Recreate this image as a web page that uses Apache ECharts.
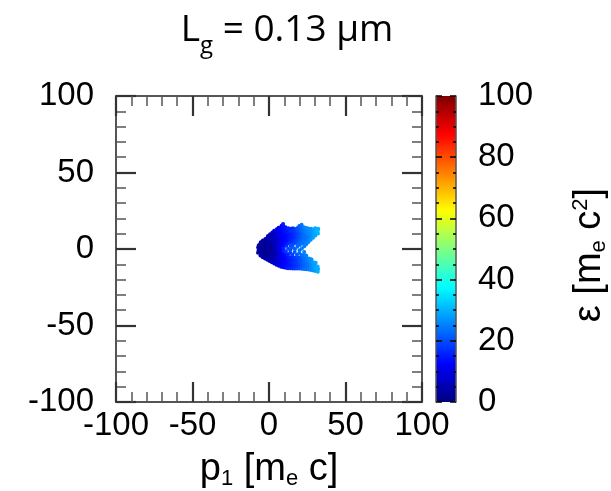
<!DOCTYPE html>
<html>
<head>
<meta charset="utf-8">
<script src="https://cdn.jsdelivr.net/npm/echarts@6/dist/echarts.min.js"></script>
<style>html,body{margin:0;padding:0;background:#fff}#c{width:611px;height:491px}</style>
</head>
<body>
<div id="c"></div>
<script>
// axis ranges and ticks
const xRange = [-100, 100];
const yRange = [-100, 100];
const axisInterval = 50;
const energyRange = [0, 100];
const energyInterval = 20;
// jet colormap stops
const jetColors = ['#00007F','#0000FF','#007FFF','#00FFFF','#7FFF7F','#FFFF00','#FF7F00','#FF0000','#7F0000'];
// particles: [p1, p2, energy]
const particles = [
[-7.2,-2.4,4],[-6.8,-0.8,3],[-7.1,0.9,3],[-6.7,2.5,4],
[-5.6,-4.3,4],[-5.4,-2.5,3],[-5.8,-0.7,2],[-5.3,1.1,2],[-5.7,2.9,3],[-5.4,4.4,4],
[-4.1,-5.4,4],[-3.9,-3.6,3],[-4.3,-1.8,2],[-4.0,0.0,2],[-3.8,1.8,2],[-4.2,3.6,3],[-4.0,5.5,4],
[-2.6,-6.2,4],[-2.4,-4.4,3],[-2.8,-2.6,2],[-2.5,-0.8,2],[-2.3,1.0,2],[-2.7,2.8,2],[-2.5,4.6,3],[-2.4,6.5,4],
[-1.1,-7.0,4],[-0.9,-5.2,3],[-1.3,-3.4,2],[-1.0,-1.6,2],[-0.8,0.2,2],[-1.2,2.0,2],[-1.0,3.8,3],[-0.9,5.6,3],[-1.1,7.4,4],[-0.7,8.5,5],
[0.4,-7.8,5],[0.6,-6.0,4],[0.2,-4.2,3],[0.5,-2.4,3],[0.7,-0.6,2],[0.3,1.2,3],[0.5,3.0,3],[0.6,4.8,3],[0.4,6.6,4],[0.5,8.4,5],[0.7,9.7,6],
[1.9,-8.7,6],[2.1,-6.9,5],[1.7,-5.1,4],[2.0,-3.3,4],[2.2,-1.5,3],[1.8,0.3,3],[2.0,2.1,4],[2.1,3.9,4],[1.9,5.7,4],[2.0,7.5,5],[1.8,9.3,6],[2.2,10.8,7],
[3.4,-9.5,7],[3.6,-7.7,6],[3.2,-5.9,5],[3.5,-4.1,5],[3.7,-2.3,4],[3.3,-0.5,4],[3.5,1.3,5],[3.6,3.1,5],[3.4,4.9,5],[3.5,6.7,6],[3.3,8.5,6],[3.7,10.3,7],[3.4,11.9,8],
[4.9,-10.3,9],[5.1,-8.5,8],[4.7,-6.7,7],[5.0,-4.9,6],[5.2,-3.1,6],[4.8,-1.3,6],[5.0,0.5,7],[5.1,2.3,7],[4.9,4.1,7],[5.0,5.9,7],[4.8,7.7,8],[5.2,9.5,8],[4.9,11.3,9],[5.1,12.9,10],
[6.4,-11.0,10],[6.6,-9.2,9],[6.2,-7.4,9],[6.5,-5.6,8],[6.7,-3.8,8],[6.3,-2.0,8],[6.5,-0.2,9],[6.6,1.6,9],[6.4,3.4,9],[6.5,5.2,9],[6.3,7.0,9],[6.7,8.8,10],[6.4,10.6,10],[6.6,12.4,11],[6.3,13.9,11],
[7.9,-11.6,12],[8.1,-9.8,11],[7.7,-8.0,11],[8.0,-6.2,10],[8.2,-4.4,10],[7.8,-2.6,11],[8.0,-0.8,12],[8.1,1.0,12],[7.9,2.8,11],[8.0,4.6,11],[7.8,6.4,11],[8.2,8.2,11],[7.9,10.0,12],[8.1,11.8,12],[7.8,13.6,13],[8.2,15.2,13],
[9.4,-12.0,13],[9.6,-10.2,12],[9.2,-8.4,12],[9.5,-6.6,12],[9.7,-4.8,12],[9.3,-3.0,13],[9.5,-1.2,15],[9.6,0.6,16],[9.4,2.4,13],[9.5,4.2,12],[9.3,6.0,12],[9.7,7.8,12],[9.4,9.6,13],[9.6,11.4,13],[9.3,13.2,14],[9.5,14.9,14],[9.2,16.3,15],
[10.9,-12.3,14],[11.1,-10.5,13],[10.7,-8.7,13],[11.0,-6.9,13],[11.2,-5.1,13],[10.8,-3.3,14],[11.0,-1.5,18],[11.3,2.1,17],[10.9,3.9,14],[11.0,5.7,13],[10.8,7.5,13],[11.2,9.3,13],[10.9,11.1,14],[11.1,12.9,14],[10.8,14.2,15],
[12.4,-12.5,15],[12.6,-10.7,14],[12.2,-8.9,14],[12.5,-7.1,14],[12.7,-5.3,15],[12.3,-3.5,16],[12.5,0.1,20],[12.6,3.7,16],[12.4,5.5,14],[12.5,7.3,14],[12.3,9.1,14],[12.7,10.9,15],[12.4,12.7,15],[12.6,13.6,16],
[13.9,-12.6,16],[14.1,-10.8,15],[13.7,-9.0,15],[14.0,-7.2,15],[14.2,-5.4,16],[13.8,-2.4,18],[14.0,-0.6,20],[14.1,1.9,19],[13.9,4.4,17],[14.0,6.2,15],[13.8,8.0,15],[14.2,9.8,15],[13.9,11.6,16],[14.1,13.2,16],
[15.4,-12.7,17],[15.6,-10.9,16],[15.2,-9.1,16],[15.5,-7.3,16],[15.7,-5.5,17],[15.3,-3.6,19],[15.5,1.0,21],[15.6,3.0,20],[15.4,5.0,17],[15.5,6.8,16],[15.3,8.6,16],[15.7,10.4,16],[15.4,12.2,17],[15.6,13.5,17],
[16.9,-12.8,18],[17.1,-11.0,17],[16.7,-9.2,17],[17.0,-7.4,17],[17.2,-5.6,18],[16.8,-2.0,21],[17.0,0.0,22],[17.1,4.0,19],[16.9,5.8,18],[17.0,7.6,17],[16.8,9.4,17],[17.2,11.2,18],[16.9,13.0,18],
[18.4,-12.8,19],[18.6,-11.0,18],[18.2,-9.2,18],[18.5,-7.4,18],[18.7,-5.6,19],[18.3,-3.8,21],[18.5,1.5,23],[18.6,3.3,22],[18.4,5.1,20],[18.5,6.9,19],[18.3,8.7,19],[18.7,10.5,19],[18.4,12.3,20],[18.6,13.8,20],
[19.9,-12.8,20],[20.1,-11.0,19],[19.7,-9.2,19],[20.0,-7.4,20],[20.2,-5.6,20],[19.8,-2.6,23],[20.0,-0.8,24],[20.1,2.6,23],[19.9,4.4,22],[20.0,6.2,21],[19.8,8.0,20],[20.2,9.8,20],[19.9,11.6,21],[20.1,13.4,21],[19.8,15.0,22],
[21.4,-12.9,22],[21.6,-11.1,21],[21.2,-9.3,21],[21.5,-7.5,21],[21.7,-5.7,22],[21.3,-3.9,23],[21.5,0.4,25],[21.6,3.6,24],[21.4,5.4,23],[21.5,7.2,22],[21.3,9.0,22],[21.7,10.8,22],[21.4,12.6,23],[21.6,14.4,23],[21.3,15.8,24],
[22.9,-13.0,23],[23.1,-11.2,22],[22.7,-9.4,22],[23.0,-7.6,23],[23.2,-5.8,23],[22.8,-4.0,24],[23.0,-2.0,25],[23.1,1.8,25],[22.9,4.0,24],[23.0,5.8,24],[22.8,7.6,23],[23.2,9.4,23],[22.9,11.2,24],[23.1,13.0,24],[22.8,14.2,25],
[24.4,-13.2,24],[24.6,-11.4,23],[24.2,-9.6,23],[24.5,-7.8,24],[24.7,-6.0,24],[24.3,-4.2,25],[24.5,3.2,25],[24.6,5.0,25],[24.4,6.8,24],[24.5,8.6,24],[24.3,10.4,25],[24.7,12.2,25],[24.4,13.8,26],
[25.9,-13.4,25],[26.1,-11.6,24],[25.7,-9.8,24],[26.0,-8.0,25],[26.2,-6.2,26],[25.8,4.6,26],[26.0,6.4,25],[26.1,8.2,25],[25.9,10.0,26],[26.0,11.8,26],[25.8,13.4,27],
[27.4,-13.7,26],[27.6,-11.9,26],[27.2,-10.1,26],[27.5,-8.3,26],[27.7,-6.7,27],[27.3,6.0,27],[27.5,7.8,26],[27.6,9.6,26],[27.4,11.4,27],[27.5,13.2,27],
[28.9,-14.0,27],[29.1,-12.2,27],[28.7,-10.4,27],[29.0,-8.6,28],[28.8,7.4,28],[29.1,9.2,28],[28.9,11.0,28],[29.0,12.8,28],
[30.4,-14.4,28],[30.6,-12.6,29],[30.2,-10.8,28],[30.5,-9.0,29],[30.3,8.8,29],[30.6,10.6,29],[30.4,12.4,30],[30.2,13.6,29],
[31.9,-14.8,30],[32.1,-13.0,29],[31.8,-11.4,30],[32.0,10.2,30],[31.9,12.0,31],[32.2,13.2,30]
];

const FONT = 'Liberation Sans, Arial, sans-serif';
const TITLE_FONT = 'Open Sans, Noto Sans, sans-serif';
const frameColor = '#555';
const labelStyle = {fontSize: 33, color: '#000', fontFamily: FONT};

function frameAxis(extra) {
  return Object.assign({
    axisLine: {show: true, onZero: false, lineStyle: {color: frameColor, width: 2}},
    axisTick: {show: true, inside: true, length: 20, lineStyle: {color: '#333', width: 2.2}},
    minorTick: {show: true, splitNumber: 5, length: 10, lineStyle: {color: '#555', width: 1.5}},
    splitLine: {show: false},
    minorSplitLine: {show: false}
  }, extra);
}
function cbAxis(extra) {
  return Object.assign({
    gridIndex: 1, type: 'value', min: energyRange[0], max: energyRange[1], interval: energyInterval, z: 10,
    axisLine: {show: true, onZero: false, lineStyle: {color: frameColor, width: 1.5}},
    axisTick: {show: true, inside: true, length: 6, lineStyle: {color: '#000', width: 1.5}},
    minorTick: {show: true, splitNumber: 4, length: 3, lineStyle: {color: '#000', width: 1.5}},
    splitLine: {show: false}
  }, extra);
}

const chart = echarts.init(document.getElementById('c'), null, {renderer: 'canvas'});
chart.setOption({
  animation: false,
  backgroundColor: '#fff',
  grid: [
    {left: 116, top: 96, width: 306, height: 306, outerBoundsMode: 'none'},
    {left: 436, top: 96, width: 20, height: 306, outerBoundsMode: 'none'}
  ],
  xAxis: [
    frameAxis({gridIndex: 0, type: 'value', position: 'bottom', min: xRange[0], max: xRange[1], interval: axisInterval,
      axisLabel: Object.assign({margin: 7}, labelStyle),
      name: '{a|p}{s|1}{a| [m}{s|e}{a| c]}', nameLocation: 'middle', nameGap: 46,
      nameTextStyle: {rich: {
        a: {fontSize: 38, fontFamily: FONT, color: '#000', lineHeight: 44},
        s: {fontSize: 22, fontFamily: FONT, color: '#000', lineHeight: 44, verticalAlign: 'bottom', padding: [0, 0, 2, 0]}
      }}
    }),
    frameAxis({gridIndex: 0, type: 'value', position: 'top', min: xRange[0], max: xRange[1], interval: axisInterval, axisLabel: {show: false}}),
    {gridIndex: 1, type: 'value', min: 0, max: 1, show: false}
  ],
  yAxis: [
    frameAxis({gridIndex: 0, type: 'value', position: 'left', min: yRange[0], max: yRange[1], interval: axisInterval,
      axisLabel: Object.assign({margin: 22}, labelStyle)}),
    frameAxis({gridIndex: 0, type: 'value', position: 'right', min: yRange[0], max: yRange[1], interval: axisInterval, axisLabel: {show: false}}),
    cbAxis({position: 'right', axisLabel: Object.assign({margin: 22}, labelStyle)}),
    cbAxis({position: 'left', axisLabel: {show: false}}),
  ],
  visualMap: {
    type: 'continuous', min: energyRange[0], max: energyRange[1], dimension: 2, seriesIndex: 0, z: 2,
    calculable: false, show: true, left: 436, top: 96, padding: 0, itemWidth: 20, itemHeight: 306,
    inRange: {color: jetColors}
  },
  graphic: [
    {type: 'text', x: 287, y: 53, z: 100,
      style: {text: '{a|L}{s|g}{a| = 0.13 μm}', align: 'center', verticalAlign: 'bottom',
        rich: {
          a: {fontSize: 37, fontFamily: TITLE_FONT, fill: '#000', lineHeight: 46},
          s: {fontSize: 24, fontFamily: TITLE_FONT, fill: '#000', lineHeight: 46, verticalAlign: 'bottom', padding: [0, 0, -5, 0]}
        }}},
    {type: 'text', x: 590, y: 255, rotation: Math.PI / 2, z: 100,
      style: {text: '{a|ε [m}{s|e}{a| c}{p|2}{a|]}', align: 'center', verticalAlign: 'middle',
        rich: {
          a: {fontSize: 38, fontFamily: FONT, fill: '#000', lineHeight: 44},
          s: {fontSize: 22, fontFamily: FONT, fill: '#000', lineHeight: 44, verticalAlign: 'bottom', padding: [0, 0, 2, 0]},
          p: {fontSize: 22, fontFamily: FONT, fill: '#000', lineHeight: 44, verticalAlign: 'top', padding: [2, 0, 0, 0]}
        }}}
  ],
  series: [{
    type: 'scatter', xAxisIndex: 0, yAxisIndex: 0, symbol: 'circle', symbolSize: 4,
    data: particles, itemStyle: {opacity: 1}
  }]
});
</script>
</body>
</html>
